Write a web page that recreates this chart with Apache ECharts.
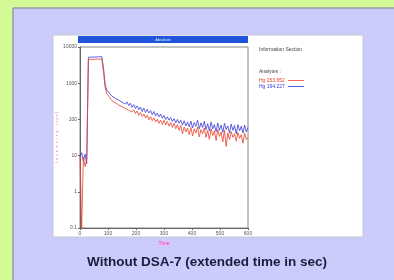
<!DOCTYPE html>
<html>
<head>
<meta charset="utf-8">
<script src="https://cdn.jsdelivr.net/npm/echarts@6/dist/echarts.min.js"></script>
<style>
  html, body { margin: 0; padding: 0; }
  #chart { width: 394px; height: 280px; }
</style>
</head>
<body>
<div id="chart"></div>
<script>
// time in sec
var times = [0, 6, 12, 18, 24, 30, 36, 42, 48, 54, 60, 66, 72, 78, 84, 90, 96, 102, 108, 114,
  120, 126, 132, 138, 144, 150, 156, 162, 168, 174, 180, 186, 192, 198, 204, 210, 216, 222, 228, 234,
  240, 246, 252, 258, 264, 270, 276, 282, 288, 294, 300, 306, 312, 318, 324, 330, 336, 342, 348, 354,
  360, 366, 372, 378, 384, 390, 396, 402, 408, 414, 420, 426, 432, 438, 444, 450, 456, 462, 468, 474,
  480, 486, 492, 498, 504, 510, 516, 522, 528, 534, 540, 546, 552, 558, 564, 570, 576, 582, 588, 594, 600];

var seriesNames = ['Hg 253.652', 'Hg 194.227'];

var redVals = [10, 0.1, 9, 5, 8, 4500, 4600, 4550, 4650, 4600, 4700, 4650, 4750, 4650, 2000, 750, 520, 450,
  400, 330, 360, 290, 310, 250, 280, 225, 250, 200, 225, 180, 200, 160, 185, 145, 170, 130, 155, 120, 140, 110,
  130, 98, 120, 92, 110, 85, 100, 78, 95, 72,
  95, 70, 88, 65, 82, 60, 78, 55, 72, 50,
  68, 40, 62, 45, 58, 38, 60, 35, 55, 42, 62, 33, 52, 40, 58, 32, 50, 28, 55, 36,
  48, 26, 52, 34, 45, 24, 50, 18, 42, 28, 46, 32, 40, 25, 44, 30, 38, 22, 42, 28, 32];

var blueVals = [9, 12, 7, 11, 6, 5200, 5300, 5250, 5350, 5300, 5400, 5350, 5500, 5400, 2600, 900, 640, 560,
  520, 440, 470, 385, 410, 340, 370, 300, 330, 265, 305, 240, 280, 215, 255, 200, 235, 185, 220, 165, 205, 155,
  190, 150, 175, 135, 165, 125, 150, 118, 140, 108,
  128, 100, 118, 95, 112, 88, 105, 80, 100, 78,
  95, 70, 92, 66, 85, 62, 90, 58, 82, 64, 95, 55, 80, 60, 88, 52, 76, 48, 85, 55,
  72, 46, 80, 50, 70, 44, 78, 52, 66, 42, 74, 50, 68, 40, 72, 48, 65, 42, 70, 45, 60];

var xTicks = [0, 100, 200, 300, 400, 500, 600];

function pairs(vals) {
  var out = [];
  for (var i = 0; i < times.length; i++) out.push([times[i], vals[i]]);
  return out;
}

var chart = echarts.init(document.getElementById('chart'));

var small = { fontSize: 5, color: '#555', fontFamily: 'Liberation Sans' };

chart.setOption({
  backgroundColor: '#d4fa98',
  animation: false,
  graphic: [
    { type: 'rect', shape: { x: 13, y: 8, width: 381, height: 272 }, style: { fill: '#ccccfc' }, z: -10 },
    { type: 'line', shape: { x1: 13, y1: 8, x2: 394, y2: 8 }, style: { stroke: '#9a9aa6', lineWidth: 1.5 }, z: -9 },
    { type: 'line', shape: { x1: 13, y1: 8, x2: 13, y2: 280 }, style: { stroke: '#9a9aa6', lineWidth: 1.5 }, z: -9 },
    { type: 'rect', shape: { x: 53, y: 35, width: 310, height: 202 }, style: { fill: '#ffffff', stroke: '#c8c8d0', lineWidth: 1 }, z: -8 },
    { type: 'rect', shape: { x: 78, y: 36, width: 170, height: 7 }, style: { fill: '#1f55dc' }, z: 5 },
    { type: 'text', x: 163, y: 39.5, style: { text: 'Absolute', fill: '#dfe6ff', fontSize: 4, align: 'center', verticalAlign: 'middle' }, z: 6 },
    { type: 'text', x: 259, y: 47, style: { text: 'Information Section', fill: '#444', fontSize: 5, fontFamily: 'Liberation Sans' } },
    { type: 'text', x: 259, y: 69, style: { text: 'Analytes :', fill: '#444', fontSize: 5, fontFamily: 'Liberation Sans' } },
    { type: 'text', x: 259, y: 78, style: { text: seriesNames[0], fill: '#e8402a', fontSize: 5, fontFamily: 'Liberation Sans' } },
    { type: 'line', shape: { x1: 288, y1: 80.5, x2: 304, y2: 80.5 }, style: { stroke: '#e8402a', lineWidth: 0.8 } },
    { type: 'text', x: 259, y: 84, style: { text: seriesNames[1], fill: '#3a3ad8', fontSize: 5, fontFamily: 'Liberation Sans' } },
    { type: 'line', shape: { x1: 288, y1: 86.5, x2: 304, y2: 86.5 }, style: { stroke: '#3a3ad8', lineWidth: 0.8 } },
    { type: 'text', x: 207, y: 262, style: { text: 'Without DSA-7 (extended time in sec)', fill: '#1c1c3c', fontSize: 13.5, fontWeight: 'bold', fontFamily: 'Liberation Sans', align: 'center', verticalAlign: 'middle' } }
  ],
  grid: { left: 80, right: 146, top: 47, bottom: 52, show: true, borderColor: '#888', borderWidth: 1 },
  xAxis: {
    type: 'value', min: 0, max: 600, interval: 100,
    name: 'Time', nameLocation: 'middle', nameGap: 10,
    nameTextStyle: { fontSize: 5, color: '#d040c0', backgroundColor: '#f0c0f0' },
    axisLine: { lineStyle: { color: '#666' } },
    axisTick: { length: 2, lineStyle: { color: '#666' } },
    axisLabel: Object.assign({ margin: 3, customValues: xTicks }, small),
    splitLine: { show: false }
  },
  yAxis: {
    type: 'log', logBase: 10, min: 0.1, max: 10000,
    name: 'I  n  t  e  n  s  i  t  y     ( c p s )', nameLocation: 'middle', nameGap: 20, nameRotate: 90,
    nameTextStyle: { fontSize: 4, color: '#e070c8' },
    axisLine: { show: true, lineStyle: { color: '#666' } },
    axisTick: { length: 2, lineStyle: { color: '#666' } },
    axisLabel: Object.assign({ margin: 3, formatter: function (v) { return String(v); } }, small),
    splitLine: { show: false }
  },
  series: [
    { name: seriesNames[1], type: 'line', data: pairs(blueVals), showSymbol: false, lineStyle: { color: '#3a3ad8', width: 0.8 }, itemStyle: { color: '#3a3ad8' } },
    { name: seriesNames[0], type: 'line', data: pairs(redVals), showSymbol: false, lineStyle: { color: '#e8402a', width: 0.8 }, itemStyle: { color: '#e8402a' } }
  ]
});
</script>
</body>
</html>
